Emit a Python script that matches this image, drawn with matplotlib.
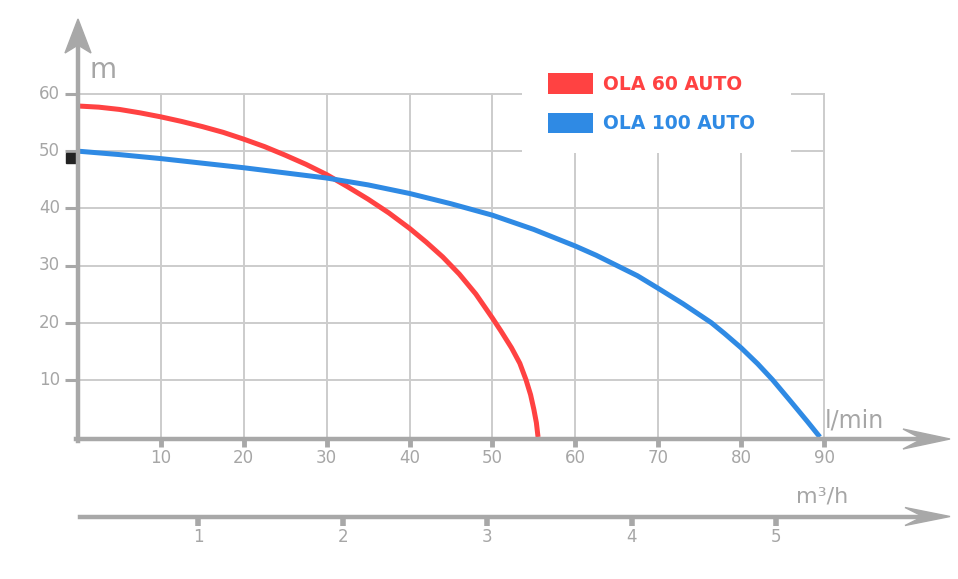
import matplotlib
matplotlib.use('Agg')
import matplotlib.pyplot as plt
from matplotlib.patches import Polygon, Rectangle

# ---- data (x in l/min, y in m) ----
ola60_q = [0, 2.5, 5, 7.5, 10, 12.5, 15, 17.5, 20, 22.5, 25, 27.5, 30, 32.5, 35, 37.5,
           40, 42, 44, 46, 48, 50, 51, 52.3, 53.3, 54.05, 54.6, 55.0, 55.3, 55.5]
ola60_h = [57.9, 57.7, 57.3, 56.7, 56.0, 55.2, 54.3, 53.3, 52.1, 50.8, 49.3, 47.7, 45.9, 43.8, 41.6, 39.2,
           36.5, 34.1, 31.5, 28.5, 25.0, 20.8, 18.6, 15.6, 12.9, 10.0, 7.4, 4.8, 2.5, 0]

ola100_q = [0, 5, 10, 15, 20, 25, 30, 35, 40, 45, 50, 55, 60, 62.5, 65, 67.5, 70, 73,
            76.4, 78, 80, 82, 83.8, 86, 88, 89.5]
ola100_h = [50, 49.4, 48.7, 47.9, 47.1, 46.2, 45.3, 44.1, 42.6, 40.8, 38.8, 36.3, 33.4, 31.8, 30.0, 28.2, 26.0, 23.3,
            20.0, 18.1, 15.6, 12.8, 10.0, 6.2, 2.7, 0]

marker_q = [-0.9]
marker_h = [48.8]

lmin_ticks = [10, 20, 30, 40, 50, 60, 70, 80, 90]
m_ticks = [10, 20, 30, 40, 50, 60]
m3h_ticks = [1, 2, 3, 4, 5]

series_labels = ['OLA 60 AUTO', 'OLA 100 AUTO']

RED = '#ff4242'
BLUE = '#2f8ae4'
AXIS = '#a8a8a8'
GRID = '#cccccc'
TXT = '#a6a6a6'

W, H = 958, 579
fig = plt.figure(figsize=(W / 100, H / 100), dpi=100)


def fp(x, y):
    """pixel (from top-left) -> figure fraction"""
    return (x / W, 1 - y / H)


# main axes: x=0 at px 78, x=90 at px 824 ; y=0 at px 437, y=60 at px 94
sx = (824 - 78) / 90
sy = (437 - 94) / 60
ax = fig.add_axes([78 / W, 1 - 437 / H, (948 - 78) / W, (437 - 20) / H])
ax.set_xlim(0, (948 - 78) / sx)
ax.set_ylim(0, (437 - 20) / sy)
ax.axis('off')

# grid
for q in lmin_ticks:
    ax.plot([q, q], [0, 60], color=GRID, lw=1.4, zorder=1)
for h in m_ticks:
    ax.plot([0, 90], [h, h], color=GRID, lw=1.4, zorder=1)

# curves
ax.plot(ola60_q, ola60_h, color=RED, lw=3.6, solid_capstyle='butt', solid_joinstyle='round',
        zorder=4, clip_on=False)
ax.plot(ola100_q, ola100_h, color=BLUE, lw=3.6, solid_capstyle='butt', solid_joinstyle='round',
        zorder=4, clip_on=False)
ax.plot(marker_q, marker_h, 's', color='#222222', ms=6.5, zorder=6, clip_on=False)

# tick marks + labels
for q in lmin_ticks:
    ax.plot([q, q], [-0.4, -1.7], color=AXIS, lw=3.5, solid_capstyle='butt', clip_on=False, zorder=5)
    ax.text(q, -3.7, str(q), ha='center', va='center', fontsize=12, color=TXT)
for h in m_ticks:
    ax.plot([-1.6, 0], [h, h], color=AXIS, lw=2.2, solid_capstyle='butt', clip_on=False, zorder=5)
    ax.text(-2.2, h, str(h), ha='right', va='center', fontsize=12, color=TXT)

# axis lines and arrows (figure pixels)
fig.add_artist(plt.Line2D(*zip(fp(76, 439), fp(925, 439)), color=AXIS, lw=3.2, zorder=5))
fig.add_artist(plt.Line2D(*zip(fp(78, 441), fp(78, 46)), color=AXIS, lw=3.2, zorder=5))
fig.add_artist(Polygon([fp(950, 439), fp(903, 429), fp(922, 439), fp(903, 449)],
                       closed=True, transform=fig.transFigure, color=AXIS, zorder=5))
fig.add_artist(Polygon([fp(78, 19), fp(65, 53), fp(78, 45), fp(91, 53)],
                       closed=True, transform=fig.transFigure, color=AXIS, zorder=5))

# secondary m3/h axis
s2 = 144.6
o2 = 53.4
ax2 = fig.add_axes([78 / W, 1 - 530 / H, (948 - 78) / W, 28 / H])
ax2.set_xlim((78 - o2) / s2, (948 - o2) / s2)
ax2.set_ylim(-1, 1)
ax2.axis('off')
fig.add_artist(plt.Line2D(*zip(fp(80, 516.5), fp(925, 516.5)), color=AXIS, lw=3.2, zorder=5))
fig.add_artist(Polygon([fp(950, 516.5), fp(905, 507.5), fp(923, 516.5), fp(905, 525.5)],
                       closed=True, transform=fig.transFigure, color=AXIS, zorder=5))
tick_y = 1 - 2 * (516.5 - 502) / 28
for t in m3h_ticks:
    ax2.plot([t, t], [tick_y, tick_y - 2 * 9 / 28], color=AXIS, lw=4.0, solid_capstyle='butt', clip_on=False)
    ax2.text(t, tick_y - 2 * 21 / 28, str(t), ha='center', va='center', fontsize=12, color=TXT,
             clip_on=False)

# axis titles
fig.text(*fp(90, 78), 'm', fontsize=20, color=TXT, ha='left', va='baseline')
fig.text(*fp(825, 427), 'l/min', fontsize=17, color=TXT, ha='left', va='baseline')
fig.text(*fp(796, 503), 'm³/h', fontsize=16, color=TXT, ha='left', va='baseline')

# legend box
x0, y0 = fp(522, 153)
x1, y1 = fp(791, 64)
fig.add_artist(Rectangle((x0, y0), x1 - x0, y1 - y0, transform=fig.transFigure,
                         facecolor='white', edgecolor='none', zorder=3))
for i, (lab, col) in enumerate(zip(series_labels, [RED, BLUE])):
    top = 73 + i * 39.5
    px0, py0 = fp(548, top + 21)
    px1, py1 = fp(593, top)
    fig.add_artist(Rectangle((px0, py0), px1 - px0, py1 - py0, transform=fig.transFigure,
                             facecolor=col, edgecolor='none', zorder=4))
    fig.text(*fp(603, top + 11), lab, fontsize=13.5, fontweight='bold', color=col,
             ha='left', va='center', zorder=4)

fig.savefig('out.png', dpi=100, facecolor='white')
